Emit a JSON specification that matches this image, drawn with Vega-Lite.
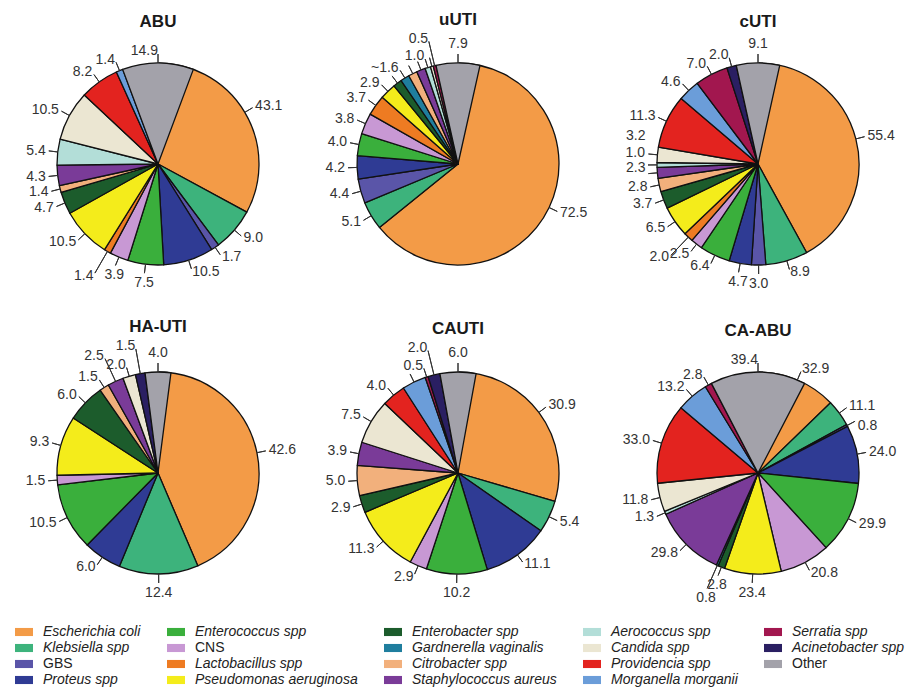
{
  "$schema": "https://vega.github.io/schema/vega-lite/v6.json",
  "padding": {"left": 15, "top": 10, "right": 0, "bottom": 0},
  "config": {"view": {"stroke": null}, "font": "Liberation Sans"},
  "data": {"values": [
    {"pie": "ABU", "species": "Escherichia coli", "value": 43.1, "label": "43.1"},
    {"pie": "ABU", "species": "Klebsiella spp", "value": 9.0, "label": "9.0"},
    {"pie": "ABU", "species": "GBS", "value": 1.7, "label": "1.7"},
    {"pie": "ABU", "species": "Proteus spp", "value": 10.5, "label": "10.5"},
    {"pie": "ABU", "species": "Enterococcus spp", "value": 7.5, "label": "7.5"},
    {"pie": "ABU", "species": "CNS", "value": 3.9, "label": "3.9"},
    {"pie": "ABU", "species": "Lactobacillus spp", "value": 1.4, "label": "1.4"},
    {"pie": "ABU", "species": "Pseudomonas aeruginosa", "value": 10.5, "label": "10.5"},
    {"pie": "ABU", "species": "Enterobacter spp", "value": 4.7, "label": "4.7"},
    {"pie": "ABU", "species": "Citrobacter spp", "value": 1.4, "label": "1.4"},
    {"pie": "ABU", "species": "Staphylococcus aureus", "value": 4.3, "label": "4.3"},
    {"pie": "ABU", "species": "Aerococcus spp", "value": 5.4, "label": "5.4"},
    {"pie": "ABU", "species": "Candida spp", "value": 10.5, "label": "10.5"},
    {"pie": "ABU", "species": "Providencia spp", "value": 8.2, "label": "8.2"},
    {"pie": "ABU", "species": "Morganella morganii", "value": 1.4, "label": "1.4"},
    {"pie": "ABU", "species": "Other", "value": 14.9, "label": "14.9"},

    {"pie": "uUTI", "species": "Escherichia coli", "value": 72.5, "label": "72.5"},
    {"pie": "uUTI", "species": "Klebsiella spp", "value": 5.1, "label": "5.1"},
    {"pie": "uUTI", "species": "GBS", "value": 4.4, "label": "4.4"},
    {"pie": "uUTI", "species": "Proteus spp", "value": 4.2, "label": "4.2"},
    {"pie": "uUTI", "species": "Enterococcus spp", "value": 4.0, "label": "4.0"},
    {"pie": "uUTI", "species": "CNS", "value": 3.8, "label": "3.8"},
    {"pie": "uUTI", "species": "Lactobacillus spp", "value": 3.7, "label": "3.7"},
    {"pie": "uUTI", "species": "Pseudomonas aeruginosa", "value": 2.9, "label": "2.9"},
    {"pie": "uUTI", "species": "Enterobacter spp", "value": 1.6, "label": ""},
    {"pie": "uUTI", "species": "Gardnerella vaginalis", "value": 1.6, "label": "~1.6"},
    {"pie": "uUTI", "species": "Citrobacter spp", "value": 1.6, "label": ""},
    {"pie": "uUTI", "species": "Staphylococcus aureus", "value": 1.6, "label": ""},
    {"pie": "uUTI", "species": "Aerococcus spp", "value": 1.0, "label": "1.0"},
    {"pie": "uUTI", "species": "Candida spp", "value": 0.5, "label": ""},
    {"pie": "uUTI", "species": "Serratia spp", "value": 0.5, "label": "0.5"},
    {"pie": "uUTI", "species": "Other", "value": 7.9, "label": "7.9"},

    {"pie": "cUTI", "species": "Escherichia coli", "value": 55.4, "label": "55.4"},
    {"pie": "cUTI", "species": "Klebsiella spp", "value": 8.9, "label": "8.9"},
    {"pie": "cUTI", "species": "GBS", "value": 3.0, "label": "3.0"},
    {"pie": "cUTI", "species": "Proteus spp", "value": 4.7, "label": "4.7"},
    {"pie": "cUTI", "species": "Enterococcus spp", "value": 6.4, "label": "6.4"},
    {"pie": "cUTI", "species": "CNS", "value": 2.5, "label": "2.5"},
    {"pie": "cUTI", "species": "Lactobacillus spp", "value": 2.0, "label": "2.0"},
    {"pie": "cUTI", "species": "Pseudomonas aeruginosa", "value": 6.5, "label": "6.5"},
    {"pie": "cUTI", "species": "Enterobacter spp", "value": 3.7, "label": "3.7"},
    {"pie": "cUTI", "species": "Citrobacter spp", "value": 2.8, "label": "2.8"},
    {"pie": "cUTI", "species": "Staphylococcus aureus", "value": 2.3, "label": "2.3"},
    {"pie": "cUTI", "species": "Aerococcus spp", "value": 1.0, "label": "1.0"},
    {"pie": "cUTI", "species": "Candida spp", "value": 3.2, "label": "3.2"},
    {"pie": "cUTI", "species": "Providencia spp", "value": 11.3, "label": "11.3"},
    {"pie": "cUTI", "species": "Morganella morganii", "value": 4.6, "label": "4.6"},
    {"pie": "cUTI", "species": "Serratia spp", "value": 7.0, "label": "7.0"},
    {"pie": "cUTI", "species": "Acinetobacter spp", "value": 2.0, "label": "2.0"},
    {"pie": "cUTI", "species": "Other", "value": 9.1, "label": "9.1"},

    {"pie": "HA-UTI", "species": "Escherichia coli", "value": 42.6, "label": "42.6"},
    {"pie": "HA-UTI", "species": "Klebsiella spp", "value": 12.4, "label": "12.4"},
    {"pie": "HA-UTI", "species": "Proteus spp", "value": 6.0, "label": "6.0"},
    {"pie": "HA-UTI", "species": "Enterococcus spp", "value": 10.5, "label": "10.5"},
    {"pie": "HA-UTI", "species": "CNS", "value": 1.5, "label": "1.5"},
    {"pie": "HA-UTI", "species": "Pseudomonas aeruginosa", "value": 9.3, "label": "9.3"},
    {"pie": "HA-UTI", "species": "Enterobacter spp", "value": 6.0, "label": "6.0"},
    {"pie": "HA-UTI", "species": "Citrobacter spp", "value": 1.5, "label": "1.5"},
    {"pie": "HA-UTI", "species": "Staphylococcus aureus", "value": 2.5, "label": "2.5"},
    {"pie": "HA-UTI", "species": "Candida spp", "value": 2.0, "label": "2.0"},
    {"pie": "HA-UTI", "species": "Acinetobacter spp", "value": 1.5, "label": "1.5"},
    {"pie": "HA-UTI", "species": "Other", "value": 4.0, "label": "4.0"},

    {"pie": "CAUTI", "species": "Escherichia coli", "value": 30.9, "label": "30.9"},
    {"pie": "CAUTI", "species": "Klebsiella spp", "value": 5.4, "label": "5.4"},
    {"pie": "CAUTI", "species": "Proteus spp", "value": 11.1, "label": "11.1"},
    {"pie": "CAUTI", "species": "Enterococcus spp", "value": 10.2, "label": "10.2"},
    {"pie": "CAUTI", "species": "CNS", "value": 2.9, "label": "2.9"},
    {"pie": "CAUTI", "species": "Pseudomonas aeruginosa", "value": 11.3, "label": "11.3"},
    {"pie": "CAUTI", "species": "Enterobacter spp", "value": 2.9, "label": "2.9"},
    {"pie": "CAUTI", "species": "Citrobacter spp", "value": 5.0, "label": "5.0"},
    {"pie": "CAUTI", "species": "Staphylococcus aureus", "value": 3.9, "label": "3.9"},
    {"pie": "CAUTI", "species": "Candida spp", "value": 7.5, "label": "7.5"},
    {"pie": "CAUTI", "species": "Providencia spp", "value": 4.0, "label": "4.0"},
    {"pie": "CAUTI", "species": "Morganella morganii", "value": 4.0, "label": ""},
    {"pie": "CAUTI", "species": "Serratia spp", "value": 0.5, "label": "0.5"},
    {"pie": "CAUTI", "species": "Acinetobacter spp", "value": 2.0, "label": "2.0"},
    {"pie": "CAUTI", "species": "Other", "value": 6.0, "label": "6.0"},

    {"pie": "CA-ABU", "species": "Escherichia coli", "value": 32.9, "label": "32.9"},
    {"pie": "CA-ABU", "species": "Klebsiella spp", "value": 11.1, "label": "11.1"},
    {"pie": "CA-ABU", "species": "GBS", "value": 0.8, "label": "0.8"},
    {"pie": "CA-ABU", "species": "Proteus spp", "value": 24.0, "label": "24.0"},
    {"pie": "CA-ABU", "species": "Enterococcus spp", "value": 29.9, "label": "29.9"},
    {"pie": "CA-ABU", "species": "CNS", "value": 20.8, "label": "20.8"},
    {"pie": "CA-ABU", "species": "Pseudomonas aeruginosa", "value": 23.4, "label": "23.4"},
    {"pie": "CA-ABU", "species": "Enterobacter spp", "value": 2.8, "label": "2.8"},
    {"pie": "CA-ABU", "species": "Gardnerella vaginalis", "value": 0.8, "label": "0.8"},
    {"pie": "CA-ABU", "species": "Staphylococcus aureus", "value": 29.8, "label": "29.8"},
    {"pie": "CA-ABU", "species": "Aerococcus spp", "value": 1.3, "label": "1.3"},
    {"pie": "CA-ABU", "species": "Candida spp", "value": 11.8, "label": "11.8"},
    {"pie": "CA-ABU", "species": "Providencia spp", "value": 33.0, "label": "33.0"},
    {"pie": "CA-ABU", "species": "Morganella morganii", "value": 13.2, "label": "13.2"},
    {"pie": "CA-ABU", "species": "Serratia spp", "value": 2.8, "label": "2.8"},
    {"pie": "CA-ABU", "species": "Other", "value": 39.4, "label": "39.4"}
  ]},
  "transform": [
    {"calculate": "indexof(['Escherichia coli','Klebsiella spp','GBS','Proteus spp','Enterococcus spp','CNS','Lactobacillus spp','Pseudomonas aeruginosa','Enterobacter spp','Gardnerella vaginalis','Citrobacter spp','Staphylococcus aureus','Aerococcus spp','Candida spp','Providencia spp','Morganella morganii','Serratia spp','Acinetobacter spp','Other'], datum.species)", "as": "ord"},
    {"window": [{"op": "sum", "field": "value", "as": "cumEnd"}], "groupby": ["pie"], "sort": [{"field": "ord", "order": "ascending"}], "frame": [null, 0]},
    {"joinaggregate": [{"op": "sum", "field": "value", "as": "total"}], "groupby": ["pie"]},
    {"calculate": "datum.cumEnd - datum.value", "as": "cumStart"},
    {"calculate": "datum.cumEnd - datum.value / 2", "as": "mid"},
    {"calculate": "360 * datum.mid / datum.total", "as": "ang"}
  ],
  "facet": {
    "field": "pie", "type": "nominal",
    "sort": ["ABU", "uUTI", "cUTI", "HA-UTI", "CAUTI", "CA-ABU"],
    "title": null,
    "header": {"labelFontSize": 17, "labelFontWeight": "bold", "labelColor": "#1a1a1a", "labelPadding": 3, "labelFont": "Liberation Sans"}
  },
  "columns": 3,
  "spacing": {"row": 21, "column": 14},
  "spec": {
    "width": 286,
    "height": 260,
    "layer": [
      {
        "mark": {"type": "arc", "radius": 101, "stroke": "#111111", "strokeWidth": 1.3, "strokeJoin": "round"},
        "encoding": {
          "theta": {"field": "cumStart", "type": "quantitative", "stack": null, "scale": {"nice": false, "zero": true}},
          "theta2": {"field": "cumEnd"},
          "color": {
            "field": "species", "type": "nominal",
            "scale": {
              "domain": ["Escherichia coli", "Enterococcus spp", "Enterobacter spp", "Aerococcus spp", "Serratia spp", "Klebsiella spp", "CNS", "Gardnerella vaginalis", "Candida spp", "Acinetobacter spp", "GBS", "Lactobacillus spp", "Citrobacter spp", "Providencia spp", "Other", "Proteus spp", "Pseudomonas aeruginosa", "Staphylococcus aureus", "Morganella morganii"],
              "range": ["#F39B47", "#3AAF3C", "#1C5C2C", "#B3DED8", "#A2174F", "#3DB37C", "#C898D4", "#1F7E9E", "#EBE6D2", "#2A1F62", "#5A55A8", "#EE7B22", "#F2B07C", "#E3231F", "#A3A2AA", "#2F3B94", "#F4EC1B", "#7A3B98", "#6B9DD9"]
            },
            "legend": {
              "orient": "none", "legendX": 0, "legendY": 589,
              "direction": "horizontal", "columns": 5, "title": null,
              "symbolType": "M-1,-0.45L1,-0.45L1,0.45L-1,0.45Z", "symbolSize": 324, "symbolStrokeWidth": 0,
              "labelFontSize": 14, "labelFont": "Liberation Sans", "labelColor": "#222222",
              "columnPadding": 26, "rowPadding": 0, "labelOffset": 10, "labelLimit": 260,
              "labelFontStyle": {"expr": "indexof(['GBS','CNS','Other'], datum.label) >= 0 ? 'normal' : 'italic'"}
            }
          }
        }
      },
      {
        "transform": [{"filter": "datum.label == ''"}],
        "mark": {"type": "arc", "radius": 110, "radius2": 101, "stroke": "#333333", "strokeWidth": 1, "fillOpacity": 0},
        "encoding": {
          "theta": {"field": "mid", "type": "quantitative", "stack": null},
          "theta2": {"field": "mid"}
        }
      },
      {
        "transform": [
          {"filter": "datum.label != ''"},
          {"window": [{"op": "lag", "field": "ang", "as": "prevAng"}], "groupby": ["pie"], "sort": [{"field": "ord", "order": "ascending"}]},
          {"calculate": "(datum.prevAng != null && (datum.ang - datum.prevAng) < 6 + 4 * abs(cos(datum.ang * PI / 180))) ? 0 : 1", "as": "startRun"},
          {"window": [{"op": "sum", "field": "startRun", "as": "runId"}], "groupby": ["pie"], "sort": [{"field": "ord", "order": "ascending"}], "frame": [null, 0]},
          {"window": [{"op": "row_number", "as": "rk"}], "groupby": ["pie", "runId"], "sort": [{"field": "ord", "order": "ascending"}]},
          {"calculate": "abs(cos(datum.ang * PI / 180)) < 0.6", "as": "side"},
          {"calculate": "(!datum.side && datum.rk % 2 == 0) ? 129 : 113", "as": "labelR"},
          {"calculate": "datum.side ? (datum.ang < 180 ? 1 : -1) * (datum.rk - 1) * 6 : 0", "as": "labelDy"},
          {"calculate": "datum.labelR - 3", "as": "tickR"}
        ],
        "layer": [
          {
            "mark": {"type": "arc", "radius2": 101, "stroke": "#333333", "strokeWidth": 1, "fillOpacity": 0},
            "encoding": {
              "theta": {"field": "mid", "type": "quantitative", "stack": null},
              "theta2": {"field": "mid"},
              "radius": {"field": "tickR", "type": "quantitative", "scale": null}
            }
          },
          {
            "mark": {
              "type": "text", "fontSize": 14, "color": "#333333", "font": "Liberation Sans",
              "align": {"expr": "datum.ang > 15 && datum.ang < 165 ? 'left' : (datum.ang > 195 && datum.ang < 345 ? 'right' : 'center')"},
              "baseline": {"expr": "(datum.ang <= 15 || datum.ang >= 345) ? 'bottom' : ((datum.ang >= 165 && datum.ang <= 195) ? 'top' : 'middle')"},
              "dy": {"expr": "datum.labelDy"}
            },
            "encoding": {
              "theta": {"field": "mid", "type": "quantitative", "stack": null},
              "radius": {"field": "labelR", "type": "quantitative", "scale": null},
              "text": {"field": "label"}
            }
          }
        ]
      }
    ]
  },
  "resolve": {"scale": {"theta": "independent"}}
}
